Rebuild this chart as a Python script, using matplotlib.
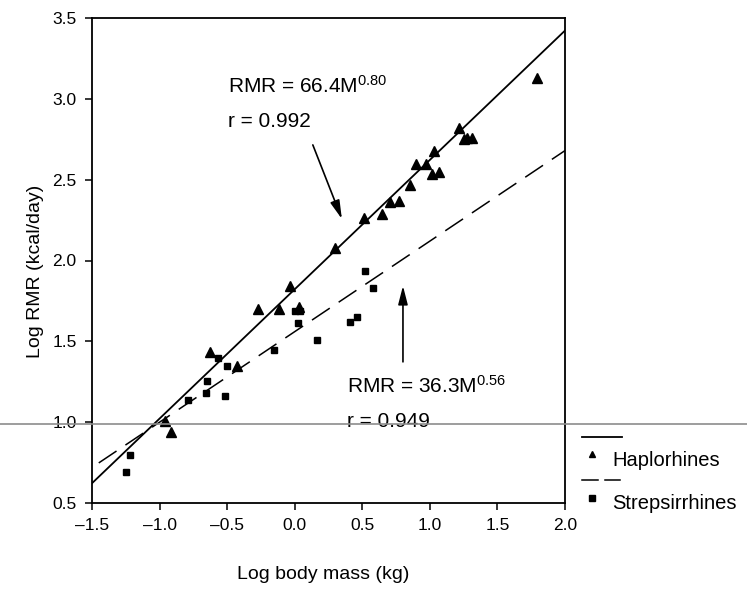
import numpy as np
import matplotlib
matplotlib.use('Agg')
import matplotlib.pyplot as plt
from matplotlib.lines import Line2D

plt.rcParams['font.family'] = ['Liberation Sans', 'DejaVu Sans']
plt.rcParams['mathtext.default'] = 'regular'

# Haplorhines (triangles)
hap_x = [-0.963, -0.913, -0.624, -0.425, -0.27, -0.117, -0.035, 0.03, 0.30, 0.51,
         0.646, 0.708, 0.775, 0.85, 0.90, 0.973, 1.017, 1.07, 1.034, 1.215,
         1.25, 1.277, 1.31, 1.79]
hap_y = [1.01, 0.94, 1.435, 1.35, 1.70, 1.70, 1.84, 1.71, 2.08, 2.26,
         2.29, 2.36, 2.37, 2.47, 2.60, 2.60, 2.535, 2.55, 2.68, 2.82,
         2.75, 2.76, 2.76, 3.13]

# Strepsirrhines (squares)
strep_x = [-1.25, -1.22, -0.79, -0.66, -0.646, -0.567, -0.518, -0.50, -0.15,
           0.0, 0.04, 0.027, 0.166, 0.41, 0.46, 0.523, 0.577]
strep_y = [0.69, 0.80, 1.14, 1.18, 1.255, 1.40, 1.16, 1.35, 1.445,
           1.685, 1.685, 1.613, 1.51, 1.62, 1.65, 1.935, 1.83]

# fitted allometric equations RMR = a * M^b
hap_a, hap_b = 66.4, 0.80
strep_a, strep_b = 36.3, 0.56
hap_range = [-1.5, 2.0]
strep_range = [-1.45, 2.0]

xticks = [-1.5, -1.0, -0.5, 0.0, 0.5, 1.0, 1.5, 2.0]
yticks = [0.5, 1.0, 1.5, 2.0, 2.5, 3.0, 3.5]

W, H = 747, 592
fig = plt.figure(figsize=(W / 100, H / 100), dpi=100)
ax = fig.add_axes([92 / W, 1 - 503 / H, 473 / W, 485 / H])

# regression lines
hx = np.array(hap_range)
ax.plot(hx, np.log10(hap_a) + hap_b * hx, color='black', lw=1.3, zorder=2)
sx = np.array(strep_range)
ax.plot(sx, np.log10(strep_a) + strep_b * sx, color='black', lw=1.1,
        dashes=(14, 7), zorder=2)

ax.plot(hap_x, hap_y, linestyle='none', marker='^', ms=6.5, color='black', zorder=3)
ax.plot(strep_x, strep_y, linestyle='none', marker='s', ms=5, color='black', zorder=3)

ax.set_xlim(-1.5, 2.0)
ax.set_ylim(0.5, 3.5)
ax.set_xticks(xticks)
ax.set_yticks(yticks)
ax.set_xticklabels([f'{v:.1f}'.replace('-', '\u2013') for v in xticks])
ax.set_yticklabels([f'{v:.1f}' for v in yticks])
ax.tick_params(direction='out', length=5, width=1.1, labelsize=12.5, pad=6)
for sp in ax.spines.values():
    sp.set_linewidth(1.3)

ax.set_xlabel('Log body mass (kg)', fontsize=14)
ax.xaxis.set_label_coords(0.488, -0.130)
ax.xaxis.label.set_va('top')
ax.set_ylabel('Log RMR (kcal/day)', fontsize=14)
ax.yaxis.set_label_coords(-0.101, 0.478)

# annotations
arrow_style = dict(arrowstyle='-|>,head_length=0.7,head_width=0.18', color='black',
                   lw=1.2, mutation_scale=16, shrinkA=0, shrinkB=0)
ax.text(-0.49, 3.04, r'RMR = 66.4M$^{0.80}$', fontsize=15, va='baseline')
ax.text(-0.49, 2.826, 'r = 0.992', fontsize=15, va='baseline')
ax.annotate('', xy=(0.349, 2.257), xytext=(0.134, 2.715), arrowprops=arrow_style)
ax.text(0.386, 1.181, r'RMR = 36.3M$^{0.56}$', fontsize=15, va='baseline')
ax.text(0.386, 0.971, 'r = 0.949', fontsize=15, va='baseline')
ax.annotate('', xy=(0.801, 1.843), xytext=(0.801, 1.373), arrowprops=arrow_style)

# legend drawn by hand, outside the axes
def fx(px):
    return px / W

def fy(py):
    return 1 - py / H

fig.add_artist(Line2D([fx(582), fx(622)], [fy(437), fy(437)], color='black', lw=1.3))
fig.add_artist(Line2D([fx(592)], [fy(454)], marker='^', ms=5, color='black', linestyle='none'))
fig.text(fx(612), fy(466.5), 'Haplorhines', fontsize=14.5, va='baseline')
fig.add_artist(Line2D([fx(582), fx(598)], [fy(480), fy(480)], color='black', lw=1.1))
fig.add_artist(Line2D([fx(605), fx(620)], [fy(480), fy(480)], color='black', lw=1.1))
fig.add_artist(Line2D([fx(592)], [fy(498)], marker='s', ms=4, color='black', linestyle='none'))
fig.text(fx(612), fy(509), 'Strepsirrhines', fontsize=14.5, va='baseline')

# faint scan line running across the page
fig.add_artist(Line2D([0, 1], [fy(423.5), fy(423.5)], color='#8c8c8c', lw=1.2, zorder=10))

fig.savefig('out.png', dpi=100)
